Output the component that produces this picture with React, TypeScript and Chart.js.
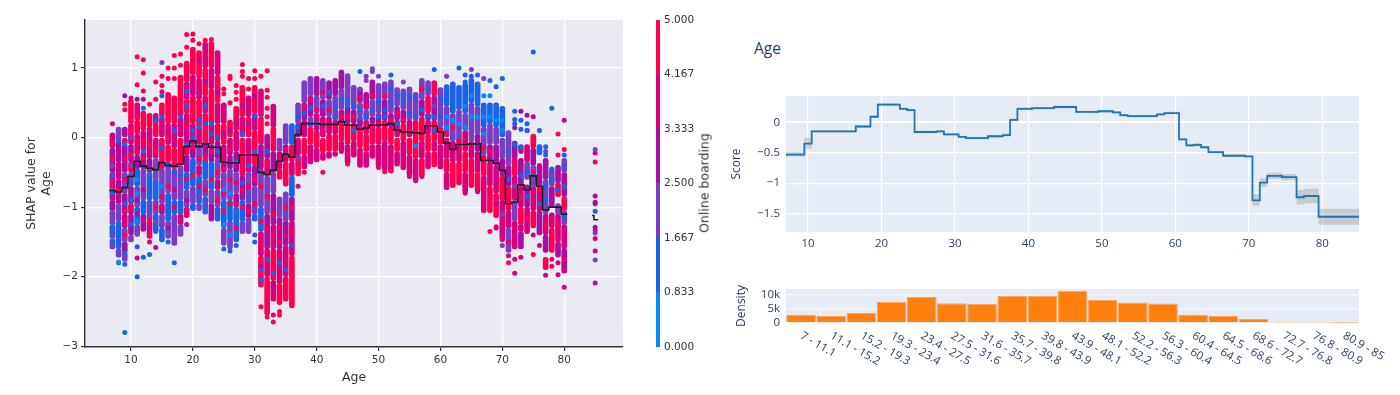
import React, { useEffect, useRef } from "react";
import { Chart, registerables } from "chart.js";

Chart.register(...registerables);

// Left panel: discrete feature value (Online boarding rating) -> colour bar
const ratingColors = ["#008bfb", "#1a62e6", "#7a3ec2", "#a70fa0", "#d9007c", "#ff0051"];
const colorbarTicks = [0, 0.8333, 1.6667, 2.5, 3.3333, 4.1667, 5];
const shapXTicks = [10, 20, 30, 40, 50, 60, 70, 80];
const shapYTicks = [-3, -2, -1, 0, 1];

// Per age: age, top, rating, next boundary, rating, ..., bottom. Rating -1 means empty gap.
const ageBands: number[][] = [
  [7, .07, 4, -.15, 3, -.5, 4, -.9, 3, -1.05, 2, -1.25, 1, -1.45, 2, -1.6],
  [8, .15, 2, -.05, 3, -.35, 4, -.6, 3, -.95, 2, -1.2, 1, -1.6, 2, -1.72],
  [9, .15, 3, 0, 4, -.1, 3, -.5, 2, -.8, 3, -1.1, 4, -1.3, 2, -1.5, 3, -1.65, 2, -1.78],
  [10, .55, 5, .2, 4, -.1, 3, -.35, 5, -.5, 2, -.7, 3, -.95, 4, -1.1, 3, -1.4, 2, -1.5],
  [11, .5, 4, .25, 5, .05, 4, -.25, 3, -.45, 1, -.7, 2, -1, 1, -1.25, 2, -1.42],
  [12, .38, 5, .1, 4, -.2, 3, -.45, 2, -.9, 1, -1.1, 3, -1.35],
  [13, .35, 5, .15, 4, -.3, 3, -.5, 1, -.9, 2, -1.2, 4, -1.45],
  [14, .35, 4, .2, 5, 0, 4, -.3, 2, -.6, 1, -.9, 2, -1.1, 1, -1.35],
  [15, .5, 5, .3, 4, 0, 5, -.45, 2, -.95, 3, -1.1, 2, -1.3, 1, -1.5],
  [16, .65, 5, .2, 4, -.1, 5, -.35, 2, -.8, 1, -1.2, 2, -1.45],
  [17, .6, 5, .2, 4, -.15, 5, -.45, 2, -.9, 1, -1.1, 2, -1.55],
  [18, .9, 5, .3, 4, 0, 5, -.4, 2, -.9, 1, -1.1, 4, -1.25, 2, -1.42],
  [19, 1.1, 5, .8, 4, .55, 5, .35, 4, -.1, 5, -.25, 3, -.5, 1, -.75, 2, -1, 4, -1.15],
  [20, 1.3, 5, .9, 4, .6, 5, .2, 4, -.1, 3, -.3, 1, -.7, 2, -.95, 1, -1.05],
  [21, 1.25, 5, .85, 4, .55, 5, .15, 4, -.1, 2, -.4, 4, -.55, 1, -.95, 2, -1.05],
  [22, 1.37, 4, 1, 5, .6, 4, .35, 5, -.1, 3, -.3, 1, -.6, 2, -.85, 1, -1.1],
  [23, 1.38, 5, 1, 4, .7, 5, .2, 4, -.1, 3, -.35, 1, -.75, 2, -.95, 3, -1.2],
  [24, 1.25, 4, .9, 5, .5, 4, .2, 5, -.05, 3, -.3, 2, -.6, 4, -.75, 2, -1, 1, -1.2],
  [25, .5, 4, .2, 5, -.1, 4, -.35, 3, -.5, 2, -.9, 1, -1.3, 2, -1.55],
  [26, .25, 5, 0, 4, -.25, 3, -.45, 2, -.9, 1, -1.2, 2, -1.6],
  [27, .45, 5, .1, 4, -.2, 3, -.5, 2, -.8, 3, -1, 1, -1.5],
  [28, .75, 5, .3, 4, 0, 5, -.55, 3, -.9, 1, -1.2, 2, -1.38],
  [29, .6, 4, .3, 5, 0, 4, -.5, 2, -.95, 3, -1.15, 2, -1.38],
  [30, .75, 5, .35, 4, .1, 5, -.4, 3, -.7, 2, -1.1, 1, -1.2],
  [31, .7, 4, .3, 5, -.1, 3, -.45, 2, -1, 1, -1.35, 4, -1.7, 5, -2.15],
  [32, .05, 3, -.3, 5, -.55, 2, -1.1, 3, -1.6, 4, -2, 5, -2.55],
  [33, .48, 4, .15, 5, -.2, 3, -.5, 2, -.8, 3, -1.25, 4, -1.6, 5, -2.05, 4, -2.35],
  [34, 0, 2, -.2, 4, -.45, 5, -.6, -1, -.85, 2, -1.15, 3, -1.6, 4, -2.1, 5, -2.4],
  [35, .2, 2, -.1, 4, -.35, 5, -.7, -1, -.78, 2, -1.2, 3, -1.55, 4, -2, 5, -2.35],
  [36, .2, 1, -.1, 5, -.35, 4, -.55, 1, -.85, 3, -1.2, 4, -1.7, 5, -2.45],
  [37, .5, 2, .2, 3, 0, 4, -.25, 5, -.55],
  [38, .82, 2, .5, 3, .25, 4, 0, 5, -.25, 4, -.45],
  [39, .88, 2, .6, 3, .3, 2, .15, 5, -.1, 4, -.38],
  [40, .88, 3, .6, 2, .35, 4, .1, 5, -.15, 4, -.35],
  [41, .85, 2, .55, 3, .3, 4, 0, 5, -.22, 4, -.33],
  [42, .82, 3, .55, 2, .3, 4, .05, 5, -.2, 4, -.3],
  [43, .85, 3, .6, 2, .25, 4, .05, 5, -.2, 4, -.27],
  [44, .97, 3, .7, 2, .4, 3, .2, 5, -.05, 4, -.2],
  [45, .92, 2, .45, 3, .2, 5, -.1, 4, -.38],
  [46, .75, 2, .4, 3, .2, 5, -.05, 4, -.28],
  [47, .72, 3, .5, 2, .3, 3, .15, 5, -.15, 4, -.43],
  [48, .65, 3, .4, 2, .25, 4, .05, 5, -.2, 4, -.43],
  [49, .83, 3, .55, 2, .3, 3, .2, 5, -.1, 4, -.3],
  [50, .78, 2, .35, 3, .15, 5, -.1, 4, -.42],
  [51, .8, 2, .55, 3, .25, 5, -.05, 4, -.47],
  [52, .83, 2, .35, 3, .15, 5, -.1, 4, -.5],
  [53, .72, 2, .45, 3, .25, 4, 0, 5, -.2, 4, -.41],
  [54, .7, 2, .4, 3, .2, 5, -.05, 4, -.46],
  [55, .73, 2, .25, 4, 0, 5, -.25, 4, -.55],
  [56, .65, 2, .25, 5, -.3, 4, -.62],
  [57, .85, 2, .55, 3, .3, 5, -.05, 4, -.3, 5, -.56],
  [58, .82, 2, .6, 5, .35, 3, .25, 4, .05, 5, -.2, 4, -.45],
  [59, .82, 5, .6, 3, .25, 5, -.05, 4, -.2, 5, -.42],
  [60, .72, 2, .15, 5, -.1, 4, -.45],
  [61, .76, 1, .45, 2, 0, 4, -.3, 5, -.5, 4, -.75],
  [62, .8, 1, .35, 2, -.05, 4, -.35, 5, -.72],
  [63, .75, 1, .4, 2, -.1, 4, -.35, 5, -.68],
  [64, .78, 1, .35, 2, .1, 4, -.2, 5, -.5, 4, -.8],
  [65, .85, 1, .5, 2, -.05, 4, -.3, 5, -.72],
  [66, .8, 1, .45, 2, .05, 3, -.2, 4, -.5, 5, -.78],
  [67, .5, 1, .15, 2, -.25, 5, -.55, 4, -1.08],
  [68, .5, 1, .2, 2, -.1, 3, -.35, 4, -.7, 5, -1.08],
  [69, .5, 1, .15, 2, -.1, 3, -.4, 4, -.8, 5, -1.15],
  [70, .45, 1, 0, 2, -.3, 3, -.55, 5, -.9, 4, -1.47],
  [71, .1, 2, -.4, 3, -.7, 5, -1.05, 4, -1.3, 2, -1.65],
  [72, -.05, 3, -.3, 5, -.55, 4, -.9, 2, -1.2, 4, -1.6],
  [73, -.1, 1, -.2, -1, -.3, 3, -.7, 4, -1, 5, -1.25, 4, -1.35, 3, -1.6],
  [74, -.1, 4, -.35, 2, -.6, -1, -.68, 3, -1, 4, -1.38],
  [75, .05, 5, -.15, 3, -.4, 2, -.7, 4, -1.05, 5, -1.3],
  [76, -.1, 1, -.25, -1, -.4, 3, -.7, 4, -1.05, 3, -1.4],
  [77, -.3, 3, -.6, 2, -1.1, 4, -1.4, 3, -1.65, -1, -1.72, 5, -1.9],
  [78, -.45, 2, -.7, 3, -1, -1, -1.08, 4, -1.3, 5, -1.65],
  [79, -.4, 3, -.65, 5, -.85, -1, -.95, 2, -1.1, 4, -1.5, 3, -1.72],
  [80, -.3, 2, -.5, 3, -.85, 5, -1.05, 2, -1.25, 4, -1.6, 3, -1.95],
];

// Single dots outside the dense columns: age, SHAP value
const dotsRating5 = [[9,.48],[9,.4],[11,.76],[11,1.16],[12,1.12],[12,.93],[12,.67],[13,.48],[14,.8],[14,.55],[15,.88],[15,.75],[15,.66],[16,1],[16,.85],[17,1.18],[17,1],[17,.85],[18,1.2],[18,1.04],[19,1.48],[19,1.3],[20,1.49],[20,1.4],[21,1.35],[22,1.4],[23,1.41],[25,.7],[25,.63],[26,.88],[26,.85],[26,.5],[27,.75],[27,.65],[27,.55],[28,1.05],[28,.95],[28,.88],[29,.85],[29,.7],[30,.96],[30,.85],[31,.88],[32,.96],[32,.68],[32,.58],[32,.42],[32,.3],[32,.2],[31,-2.43],[32,-2.58],[33,-2.65],[34,-2.5],[34,-2.55],[38,-.5],[41,-.5],[45,-.38],[50,-.43],[51,-.49],[52,-.48],[68,-1.35],[69,-1.28],[71,-1.8],[79,.05],[79,-.25],[80,-.17],[85,-.35],[75,-1.68],[78,-1.85]];
const dotsRating4 = [[7,.2],[10,.57],[13,-1.5],[33,-2.55],[37,-.7],[44,-.2],[55,-.56],[56,-.62],[57,-.56],[64,-.8],[66,-.78],[69,-1.3],[70,-1.47],[71,-1.7],[72,-1.95],[72,-1.75],[73,-1.72],[75,-1.4],[76,-1.55],[77,-1.98],[78,-1.75],[79,-1.97],[79,-1.8],[80,-2.15],[80,-1.9],[85,-.22],[85,-1.45],[85,-1.34],[72,-.3],[73,-.2],[74,-.2],[76,-.4]];
const dotsRating3 = [[9,.6],[11,-1.73],[14,-1.58],[19,-1.25],[11,.55],[12,.55],[70,-.4],[74,.32],[75,.3],[73,.38],[72,.14],[80,.25],[85,-.84],[85,-1.29],[85,-1.63],[85,-2.09],[85,-.93],[85,-.95]];
const dotsRating2 = [[15,1.08],[47,.7],[48,.88],[48,.82],[49,.99],[49,.95],[50,.88],[65,.98],[54,.8],[61,.88],[67,.85],[70,-1.55],[77,-.2],[74,.1],[85,-.17],[85,-1.76],[85,-1.37]];
const dotsRating1 = [[9,-2.8],[11,-2],[12,-1.72],[13,-1.68],[17,-1.8],[8,-1.8],[9,-1.82],[11,-1.57],[15,.6],[14,-1.35],[16,-1.5],[25,-1.6],[26,-1.63],[27,-1.55],[30,-1.4],[30,-1.5],[47,.95],[52,.9],[59,.98],[63,1],[64,.8],[64,.9],[65,.88],[66,.9],[68,.82],[69,.73],[70,.85],[75,1.23],[78,.42],[72,.38],[72,.26],[72,.2],[73,.25],[73,.12],[74,.2],[74,.1],[76,.1],[77,-.13],[77,-.25],[78,-.45],[80,-.25],[85,-1.06]];
const dotsRating0 = [[8,-1.79],[67,.6],[68,.6]];

// Dots sprinkled through the columns: age, rating, values
const columnDots: number[][] = [
  [7,2,-.4,-.75,-1.1,-1.4],[7,1,-.55,-.8,-1.3,-1.5],[7,5,-.1,-.3,-.7],
  [8,1,-.05,-1.4,-1.55],[8,4,-.2,-.9],[8,5,-.75],
  [9,5,-.05,-.3,-.6,-1.05,-1.4],[9,1,-.1,-.95,-1.65],
  [10,5,.4,.1,-.25,-1],[10,1,-.65,-.9,-1.25],[10,2,0,-.4],
  [11,5,.3,-.05,-.2],[11,0,-.6,-.8,-1.2],[11,3,-.9,-1.1],
  [12,1,.42,-.2],[12,5,-.05,-.3],[12,4,-.75,-1.2],
  [13,1,-.65,-1],[13,5,.25,-.1,-1.2,-1.4],
  [14,5,.2,-.2,-1],[14,2,-.6,-1.2],[14,1,.25],
  [15,1,.3,-.15],[15,5,-.1,-.85,-1],[15,0,-.7],
  [16,5,.45,0,-.25,-.7],[16,1,-.4],[16,3,-1.3],
  [17,1,.1,-.5],[17,5,.35,-1],[17,4,-.75],
  [18,1,.3,-.55,-.95],[18,5,.65,-.15],[18,4,-1.2],
  [19,1,.67,.45,-.1],[19,5,.2,-.15,-.6],[19,3,-.9],
  [20,1,.1,0,-.4],[20,5,.95,-.15,-.55],[20,2,-.85],
  [21,1,.25,.15],[21,5,-.3,-.7],[21,2,-.85],[21,4,1.1],
  [22,1,.45,.2],[22,5,-.3,-.75],[22,2,-.95],[22,3,.8],
  [23,1,.2,.05],[23,5,-.2,-.6],[23,2,-.85],
  [24,1,0,-.2],[24,5,-.5,-.9],[24,3,.65],
  [25,5,-.45,-.8,-1.05],[25,0,-.75,-1.25],[25,3,.05],
  [26,5,-.6,-.95],[26,0,-.8,-1.4],[26,3,.1],
  [27,5,-.65,-.95,-1.3],[27,1,-.35],[27,3,.2],
  [28,5,-1,-.75],[28,1,.05,-.65],[28,3,.45],
  [29,5,-.7,-1.05],[29,1,-.4,-.85],[29,3,.2],
  [30,5,-.6,-.95],[30,1,.3,-.2],[30,3,.6],
  [31,5,-.7,-1.2,-1.55],[31,1,-1.9,-2.05],[31,3,-1.85],
  [32,5,-.85,-1.3],[32,1,-.2,-1.75],[32,4,-.45],
  [33,5,-1.1,-1.4],[33,1,-1.95],[33,3,-2.15],
  [34,5,-1.3,-1.5],[34,1,-1.8],[35,5,-1,-1.4],[35,1,-1.9],[36,5,-1,-1.35],[36,1,-1.55],
  [37,1,.3,.15],[37,2,-.3],[38,1,.35],[38,5,.45],[39,1,.42],[39,5,.55],[40,1,.2],[40,5,.4],
  [41,1,.45],[41,5,.65],[42,1,.65],[42,5,.4],[43,1,.45,.3],[43,5,.15],[44,1,.55],[44,5,.3],
  [45,1,.55,.45],[45,5,.3],[46,1,.45,.1],[46,5,.3],[47,1,.4,.28],[47,5,.55],[48,1,.3],[48,5,.45],
  [49,1,.4],[49,5,.6],[50,1,.5,.3],[50,5,.2],[51,1,.4,.3],[51,5,.6],[52,1,.7,.5],[52,5,.25],
  [53,1,.6,.2],[53,5,.35],[54,1,.6,.5],[54,5,.25],[55,1,.6,.35],[55,5,.1],[56,1,.55,.3],[56,0,-.12],
  [57,1,.4],[57,5,.7],[58,1,.3,.7],[59,1,.3,.1],[59,2,.45],[60,1,.55,.3],[60,4,.3],
  [61,0,.3,.15],[61,5,.05],[62,0,.25],[62,5,.15],[63,0,.2],[63,5,-.05],[64,0,.15,.45],[65,0,.3,.6],[66,0,.3],
  [67,0,.05,.3],[67,5,-.15],[68,0,.3],[68,5,-.2],[69,0,.25],[69,3,-.95],[70,0,.25,.1],[70,2,-1.1],
  [71,1,-.2,-.6],[71,5,-1.5],[72,1,-.1],[72,2,-.7],[73,1,-.55],[73,5,-.85],[74,1,-.5,-.85],[74,5,-1.15],[75,1,-.55],[75,5,-.5],
  [76,5,-.75],[76,1,-.95],[77,1,-.7,-.9],[77,5,-1.25],[78,1,-.6],[78,5,-1.45],[79,1,-.75],[79,5,-1.25],[80,1,-.4,-.7,-1.15],[80,5,-1.75],
];

// Black mean line: step edges and values
const meanEdges = [6.5,7.5,8.5,9.5,10.5,11.5,12.5,13.5,14.5,15.5,16.5,17.5,18.5,19.5,20.5,21.5,22.5,24.5,25.5,27.5,30.5,31.5,32.5,33.5,34.5,35.5,36.5,37.5,40.5,41.5,43.5,44.5,46.5,47.5,48.5,51.5,52.5,53.5,55.5,56.5,57.5,59.5,60.5,61.5,62.5,64.5,66.5,68.5,69.5,70.5,71.5,72.5,73.5,74.5,75.5,76.5,77.5,79.5,80.5];
const meanValues = [-.76,-.78,-.72,-.56,-.34,-.41,-.44,-.46,-.36,-.4,-.41,-.38,-.13,-.05,-.13,-.09,-.14,-.35,-.365,-.25,-.5,-.53,-.47,-.34,-.24,-.28,.04,.2,.19,.19,.23,.18,.12,.14,.18,.2,.11,.08,.07,.06,.17,.08,-.08,-.17,-.1,-.09,-.33,-.37,-.47,-.95,-.93,-.68,-.75,-.55,-.7,-1.04,-1,-1.1,-1.1];
const meanEdges85 = [84.5, 84.8, 85.5];
const meanValues85 = [-1.12, -1.18, -1.18];

// Right top panel: score function with confidence band
const scoreEdges = [7,9.5,10.5,16.5,18.5,19.5,22.5,23.5,24.5,27.5,28.5,30.5,31.5,34.5,36.5,37.5,38.5,40.5,43.5,44.5,46.5,49.5,51.5,52.5,53.5,57.5,58.5,60.5,61.5,62.5,63.5,64.5,66.5,69.5,70.5,71.5,72.5,74.5,76.5,77.5,79.5,85];
const scoreValues = [-.53,-.35,-.15,-.07,.09,.29,.22,.2,-.16,-.15,-.2,-.24,-.26,-.23,-.21,.04,.22,.23,.25,.25,.17,.18,.16,.115,.1,.13,.15,-.28,-.38,-.37,-.41,-.49,-.55,-.56,-1.28,-.99,-.88,-.9,-1.23,-1.21,-1.55,-1.55];
const scoreUpper = [-.49,-.26,-.13,-.05,.11,.31,.24,.22,-.14,-.13,-.18,-.22,-.24,-.21,-.19,.06,.24,.25,.27,.27,.19,.2,.18,.135,.12,.15,.17,-.26,-.36,-.34,-.39,-.47,-.53,-.54,-1.18,-.92,-.83,-.85,-1.11,-1.09,-1.42,-1.42];
const scoreLower = [-.56,-.43,-.17,-.09,.07,.27,.2,.18,-.18,-.17,-.22,-.26,-.28,-.25,-.23,.02,.2,.21,.23,.23,.15,.16,.14,.095,.08,.11,.13,-.3,-.4,-.4,-.43,-.51,-.57,-.58,-1.37,-1.06,-.93,-.95,-1.35,-1.33,-1.68,-1.68];
const scoreXTicks = [10, 20, 30, 40, 50, 60, 70, 80];
const scoreYTicks = [-1.5, -1, -0.5, 0];

// Right bottom panel: density histogram
const densityBins = ["7 - 11.1","11.1 - 15.2","15.2 - 19.3","19.3 - 23.4","23.4 - 27.5","27.5 - 31.6","31.6 - 35.7","35.7 - 39.8","39.8 - 43.9","43.9 - 48.1","48.1 - 52.2","52.2 - 56.3","56.3 - 60.4","60.4 - 64.5","64.5 - 68.6","68.6 - 72.7","72.7 - 76.8","76.8 - 80.9","80.9 - 85"];
const densityCounts = [2970,2500,3570,7500,9290,7000,6800,9640,9640,11430,8210,7260,6900,2970,2500,1430,120,100,10];
const densityTicks = [0, 5000, 10000];

const MPL = "'DejaVu Sans'";
const PLOTLY = "'Open Sans'";
const MPL_TEXT = "#333333";
const PLOTLY_TEXT = "#2a3f5f";

const minusSign = (v: number | string) => String(v).replace("-", "\u2212");
const fixTicks = (values: number[]) => (s: any) => { s.ticks = values.map((value) => ({ value })); };
const plotBackground = (color: string) => ({
  id: "plotBackground",
  beforeDraw(chart: any) {
    const { ctx, chartArea: a } = chart;
    ctx.save();
    ctx.fillStyle = color;
    ctx.fillRect(a.left, a.top, a.right - a.left, a.bottom - a.top);
    ctx.restore();
  },
});
const toPoints = (dots: number[][]) => dots.map(([x, y]) => ({ x, y }));
const bandsFor = (rating: number) =>
  ageBands.flatMap(([age, ...rest]) => {
    const out: any[] = [];
    for (let i = 0; i + 2 < rest.length; i += 2) {
      if (rest[i + 1] === rating) out.push({ x: age, y: [rest[i + 2], rest[i]] });
    }
    return out;
  });
const columnDotsFor = (rating: number) =>
  columnDots
    .filter((row) => row[1] === rating)
    .flatMap(([age, , ...ys]) => ys.map((y) => ({ x: age, y })));
const allDots = [dotsRating0, dotsRating1, dotsRating2, dotsRating3, dotsRating4, dotsRating5];

function makeShap(canvas: HTMLCanvasElement) {
  const bands = ratingColors.map((color, r) => ({
    type: "bar" as const,
    data: bandsFor(r),
    backgroundColor: color,
    barThickness: 5,
    grouped: false,
    borderRadius: 2.5,
    borderSkipped: false,
    order: 20 + r,
  }));
  const dots = ratingColors.map((color, r) => ({
    type: "scatter" as const,
    data: [...toPoints(allDots[r]), ...columnDotsFor(r)],
    backgroundColor: color,
    borderWidth: 0,
    pointRadius: 2.5,
    order: 2 + r,
  }));
  const line = (xs: number[], ys: number[]) => ({
    type: "line" as const,
    data: xs.map((x, i) => ({ x, y: ys[i] })),
    borderColor: "#1f1f1f",
    borderWidth: 1.6,
    pointRadius: 0,
    stepped: "before" as const,
    order: 0,
  });
  return new Chart(canvas, {
    data: { datasets: [line(meanEdges, meanValues), line(meanEdges85, meanValues85), ...dots, ...bands] as any },
    plugins: [plotBackground("#eaeaf2")],
    options: {
      responsive: false,
      animation: false,
      layout: { padding: { top: 20, right: 17, left: 0, bottom: 0 } },
      plugins: { legend: { display: false }, tooltip: { enabled: false } },
      scales: {
        x: {
          type: "linear",
          min: 2.57,
          max: 89.5,
          offset: false,
          afterFit: (s: any) => { s.height = 48; s.paddingLeft = 0; s.paddingRight = 0; },
          afterBuildTicks: fixTicks(shapXTicks),
          grid: { offset: false, color: "#fff", lineWidth: 1.2, tickColor: "#333", tickLength: 4 },
          border: { color: "#333", width: 1.4 },
          ticks: { color: MPL_TEXT, font: { family: MPL, size: 10.5 }, padding: 3, maxRotation: 0 },
          title: { display: true, text: "Age", color: MPL_TEXT, font: { family: MPL, size: 12.5 }, padding: { top: 1, bottom: 10 } },
        },
        y: {
          type: "linear",
          min: -3.01,
          max: 1.69,
          afterFit: (s: any) => { s.width = 85; },
          afterBuildTicks: fixTicks(shapYTicks),
          grid: { color: "#fff", lineWidth: 1.2, tickColor: "#333", tickLength: 4 },
          border: { color: "#333", width: 1.4 },
          ticks: { color: MPL_TEXT, font: { family: MPL, size: 10.5 }, padding: 3, callback: (v: any) => minusSign(v) },
          title: { display: true, text: ["SHAP value for", "Age"], color: MPL_TEXT, font: { family: MPL, size: 12.5 }, padding: { top: 24, bottom: 0 } },
        },
      },
    },
  });
}

function makeColorbar(canvas: HTMLCanvasElement) {
  const edges = colorbarTicks;
  return new Chart(canvas, {
    type: "bar",
    data: {
      labels: ["Online boarding"],
      datasets: ratingColors.map((color, i) => ({
        data: [[edges[i], edges[i + 1]]],
        backgroundColor: color,
        grouped: false,
        barPercentage: 1,
        categoryPercentage: 1,
        borderSkipped: false,
      })) as any,
    },
    options: {
      responsive: false,
      animation: false,
      layout: { padding: { top: 20, bottom: 48, left: 16, right: 0 } },
      plugins: { legend: { display: false }, tooltip: { enabled: false } },
      scales: {
        x: { display: false },
        y: {
          position: "right",
          min: 0,
          max: 5,
          afterFit: (s: any) => { s.width = 50; },
          afterBuildTicks: fixTicks(colorbarTicks),
          grid: { display: false, drawTicks: false },
          border: { display: false },
          ticks: { color: MPL_TEXT, font: { family: MPL, size: 10.5 }, padding: 4, callback: (v: any) => Number(v).toFixed(3) },
        },
      },
    },
  });
}

function makeScore(canvas: HTMLCanvasElement) {
  const pts = (ys: number[]) => scoreEdges.map((x, i) => ({ x, y: ys[i] }));
  const band = "rgba(120,120,120,0.28)";
  return new Chart(canvas, {
    type: "line",
    data: {
      datasets: [
        { data: pts(scoreValues), borderColor: "#1f77b4", borderWidth: 1.8, pointRadius: 0, stepped: "before", order: 0 },
        { data: pts(scoreUpper), borderWidth: 0, borderColor: "transparent", pointRadius: 0, stepped: "before", fill: "+1", backgroundColor: band, order: 1 },
        { data: pts(scoreLower), borderWidth: 0, borderColor: "transparent", pointRadius: 0, stepped: "before", order: 1 },
      ] as any,
    },
    plugins: [plotBackground("#e5ecf6")],
    options: {
      responsive: false,
      animation: false,
      layout: { padding: { top: 16, right: 41, left: 0, bottom: 0 } },
      plugins: { legend: { display: false }, tooltip: { enabled: false } },
      scales: {
        x: {
          type: "linear",
          min: 7,
          max: 85,
          afterFit: (s: any) => { s.height = 23; s.paddingLeft = 0; s.paddingRight = 0; },
          afterBuildTicks: fixTicks(scoreXTicks),
          grid: { color: "#fff", lineWidth: 1.2, drawTicks: false },
          border: { display: false },
          ticks: { color: PLOTLY_TEXT, font: { family: PLOTLY, size: 11.5 }, padding: 5, maxRotation: 0 },
        },
        y: {
          type: "linear",
          min: -1.8,
          max: 0.43,
          afterFit: (s: any) => { s.width = 66; },
          afterBuildTicks: fixTicks(scoreYTicks),
          grid: { color: "#fff", lineWidth: (c: any) => (c.tick && c.tick.value === 0 ? 2 : 1.2), drawTicks: false },
          border: { display: false },
          ticks: { color: PLOTLY_TEXT, font: { family: PLOTLY, size: 11.5 }, padding: 6, callback: (v: any) => minusSign(v) },
          title: { display: true, text: "Score", color: PLOTLY_TEXT, font: { family: PLOTLY, size: 12 }, padding: { top: 9, bottom: 0 } },
        },
      },
    },
  });
}

function makeDensity(canvas: HTMLCanvasElement) {
  return new Chart(canvas, {
    type: "bar",
    data: {
      labels: densityBins,
      datasets: [{
        data: densityCounts,
        backgroundColor: "#ff7f0e",
        borderColor: "#ffa45c",
        borderWidth: 1,
        barPercentage: 1,
        categoryPercentage: 0.985,
      }],
    },
    plugins: [plotBackground("#e5ecf6")],
    options: {
      responsive: false,
      animation: false,
      layout: { padding: { top: 19, right: 41, left: 0, bottom: 0 } },
      plugins: { legend: { display: false }, tooltip: { enabled: false } },
      scales: {
        x: {
          beforeUpdate: (s: any) => { s._getXAxisLabelAlignment = () => "left"; },
          afterFit: (s: any) => { s.height = 72; s.paddingLeft = 0; s.paddingRight = 0; },
          grid: { display: false, drawTicks: false },
          border: { display: false },
          ticks: { color: PLOTLY_TEXT, font: { family: PLOTLY, size: 11.5 }, padding: 6, autoSkip: false, minRotation: -30, maxRotation: -30 },
        },
        y: {
          type: "linear",
          min: 0,
          max: 12100,
          afterFit: (s: any) => { s.width = 66; },
          afterBuildTicks: fixTicks(densityTicks),
          grid: { color: "#f3f6fb", lineWidth: 1.5, drawTicks: false },
          border: { display: false },
          ticks: { color: PLOTLY_TEXT, font: { family: PLOTLY, size: 11.5 }, padding: 6, callback: (v: any) => (Number(v) === 0 ? "0" : `${Number(v) / 1000}k`) },
          title: { display: true, text: "Density", color: PLOTLY_TEXT, font: { family: PLOTLY, size: 12 }, padding: { top: 14, bottom: 0 } },
        },
      },
    },
  });
}

const abs = (left: number, top: number): React.CSSProperties => ({ position: "absolute", left, top, display: "block" });

export default function App() {
  const shap = useRef<HTMLCanvasElement>(null);
  const bar = useRef<HTMLCanvasElement>(null);
  const score = useRef<HTMLCanvasElement>(null);
  const density = useRef<HTMLCanvasElement>(null);

  useEffect(() => {
    const charts = [
      makeShap(shap.current!),
      makeColorbar(bar.current!),
      makeScore(score.current!),
      makeDensity(density.current!),
    ];
    return () => charts.forEach((c) => c.destroy());
  }, []);

  return (
    <div style={{ position: "fixed", left: 0, top: 0, width: 1400, height: 395, background: "#fff", overflow: "hidden", filter: "blur(0.35px)" }}>
      <canvas ref={shap} width={640} height={395} style={abs(0, 0)} />
      <canvas ref={bar} width={70} height={395} style={abs(640, 0)} />
      <canvas ref={score} width={680} height={175} style={abs(720, 80)} />
      <canvas ref={density} width={680} height={125} style={abs(720, 270)} />
      <div style={{ position: "absolute", left: 704, top: 183, transform: "translate(-50%,-50%) rotate(-90deg)", whiteSpace: "nowrap", fontFamily: MPL, fontSize: 12.5, color: MPL_TEXT }}>Online boarding</div>
      <div style={{ position: "absolute", left: 754, top: 39, fontFamily: PLOTLY, fontSize: 15.5, lineHeight: "18px", color: PLOTLY_TEXT }}>Age</div>
    </div>
  );
}
